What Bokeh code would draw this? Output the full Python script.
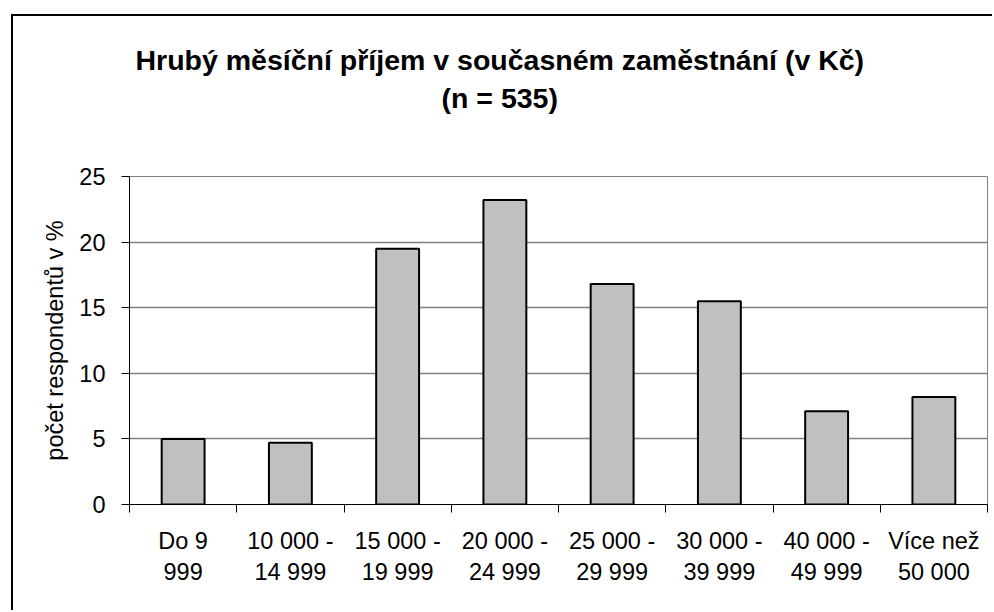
from bokeh.plotting import figure
from bokeh.models import Range1d, FixedTicker, ColumnDataSource, Title
from bokeh.embed import file_html
from bokeh.resources import INLINE

categories = ["Do 9\n999", "10 000 -\n14 999", "15 000 -\n19 999", "20 000 -\n24 999",
              "25 000 -\n29 999", "30 000 -\n39 999", "40 000 -\n49 999", "Více než\n50 000"]
values = [5.0, 4.7, 19.5, 23.2, 16.8, 15.5, 7.1, 8.2]
y_ticks = [0, 5, 10, 15, 20, 25]
title_line1 = "Hrubý měsíční příjem v současném zaměstnání (v Kč)"
title_line2 = "(n = 535)"
y_label = "počet respondentů v %"

n = len(categories)
centers = [i + 0.5 for i in range(n)]
bounds = list(range(n + 1))

FONT = "Liberation Sans"
W, H = 981, 596

p = figure(width=W, height=H, output_backend="svg", toolbar_location=None,
           x_range=Range1d(0, n), y_range=Range1d(0, y_ticks[-1]),
           min_border_left=116, min_border_right=7, min_border_top=160, min_border_bottom=108)

# outer chart border (left and top edges visible)
p.styles = {"border-left": "2px solid black", "border-top": "2px solid black",
            "margin-left": "11px", "margin-top": "14px"}

src = ColumnDataSource(dict(x=centers, top=values))
p.vbar(x="x", top="top", width=0.4, bottom=0, source=src,
       fill_color="#C0C0C0", line_color="black", line_width=2)

# titles (stacked from the frame outward: spacer, line 2, line 1)
p.title.visible = False
spacer = Title(text=" ", text_font_size="24px", standoff=33)
t2 = Title(text=title_line2, align="left", offset=312, standoff=2,
           text_font=FONT, text_font_size="28.5px", text_font_style="bold", text_color="black")
t1 = Title(text=title_line1, align="left", offset=6, standoff=5,
           text_font=FONT, text_font_size="28.5px", text_font_style="bold", text_color="black")
p.add_layout(spacer, "above")
p.add_layout(t2, "above")
p.add_layout(t1, "above")

# axes
xa = p.xaxis[0]
xa.ticker = FixedTicker(ticks=centers, minor_ticks=bounds)
xa.major_label_overrides = {c: lab for c, lab in zip(centers, categories)}
xa.major_tick_out = 0
xa.major_tick_in = 0
xa.minor_tick_out = 8
xa.minor_tick_in = 0
xa.minor_tick_line_color = "black"
xa.axis_line_color = "black"
xa.major_label_text_font = FONT
xa.major_label_text_font_size = "23.5px"
xa.major_label_text_color = "black"
xa.major_label_standoff = 15

ya = p.yaxis[0]
ya.ticker = FixedTicker(ticks=y_ticks)
ya.major_tick_out = 8
ya.major_tick_in = 0
ya.minor_tick_line_color = None
ya.axis_line_color = "black"
ya.major_tick_line_color = "black"
ya.major_label_text_font = FONT
ya.major_label_text_font_size = "23.5px"
ya.major_label_text_color = "black"
ya.major_label_standoff = 16
ya.axis_label = y_label
ya.axis_label_text_font = FONT
ya.axis_label_text_font_size = "23.5px"
ya.axis_label_text_font_style = "normal"
ya.axis_label_text_color = "black"
ya.axis_label_standoff = 8

p.xgrid.grid_line_color = None
p.ygrid.grid_line_color = "#808080"
p.ygrid.grid_line_width = 1.5

p.outline_line_color = "#808080"
p.outline_line_width = 1
p.background_fill_color = "white"
p.border_fill_color = "white"

open("out.html", "w").write(file_html(p, INLINE))
